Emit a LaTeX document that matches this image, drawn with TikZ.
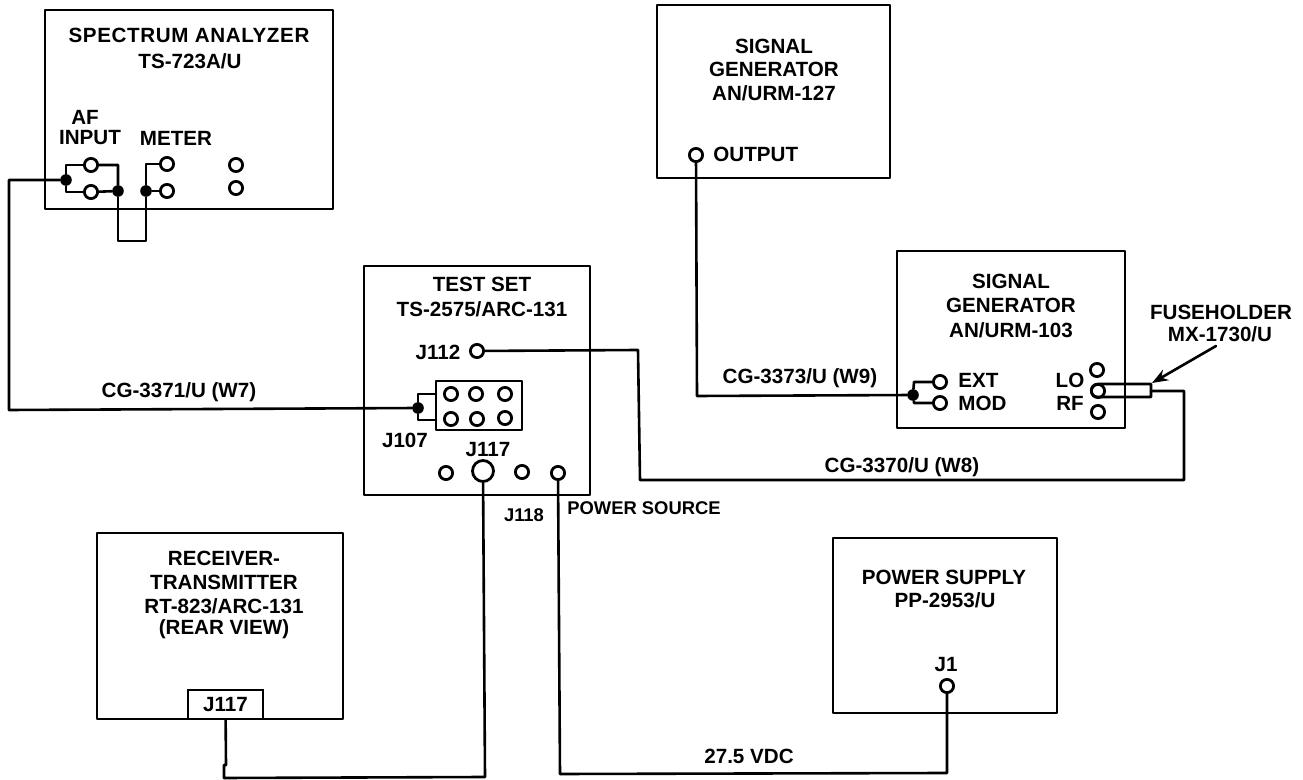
\documentclass[tikz,border=0pt]{standalone}
\usepackage{fontspec}
\setmainfont{Liberation Sans}
\usetikzlibrary{arrows.meta}
\tikzset{
  wire/.style={line width=1.3pt,line join=round,line cap=round},
  boxp/.style={draw,line width=1.3pt,inner sep=0pt},
  jack/.style={circle,draw,line width=1.4pt,fill=white,minimum size=6.6pt,inner sep=0pt},
  bigjack/.style={jack,minimum size=10.5pt},
  dot/.style={circle,fill=black,minimum size=5.8pt,inner sep=0pt},
  lab/.style={font=\fontsize{10.3}{12}\selectfont\bfseries,inner sep=0pt,align=center},
  smalllab/.style={font=\fontsize{9.2}{11}\selectfont\bfseries,inner sep=0pt,align=center},
  corner/.style={coordinate}
}
\begin{document}
\begin{tikzpicture}[x=0.5pt,y=-0.5pt]
\useasboundingbox (0,0) rectangle (1303,780);
% boxes
\node[corner] (sa1) at (45,10) {}; \node[corner] (sa2) at (333,209) {};
\draw[wire] (sa1) rectangle (sa2);
\node[corner] (sg1) at (657,5) {}; \node[corner] (sg2) at (890,178) {};
\draw[wire] (sg1) rectangle (sg2);
\node[corner] (sh1) at (897,251) {}; \node[corner] (sh2) at (1125,428) {};
\draw[wire] (sh1) rectangle (sh2);
\node[corner] (ts1) at (364,266) {}; \node[corner] (ts2) at (590,495) {};
\draw[wire] (ts1) rectangle (ts2);
\node[corner] (rt1) at (97,533) {}; \node[corner] (rt2) at (343,719) {};
\draw[wire] (rt1) rectangle (rt2);
\node[corner] (ps1) at (833,538) {}; \node[corner] (ps2) at (1057,713) {};
\draw[wire] (ps1) rectangle (ps2);
\node[corner] (jb1) at (436,381) {}; \node[corner] (jb2) at (522,430) {};
\draw[wire] (jb1) rectangle (jb2);
\node[boxp,fill=white,minimum width=37.5pt,minimum height=14.5pt,lab] (rtj) at (225.5,704.5) {J117};
% spectrum analyzer jacks
\node[jack] (a1) at (91,165) {};
\node[jack] (a2) at (91,192) {};
\node[jack] (m1) at (167,164) {};
\node[jack] (m2) at (167,191) {};
\node[jack] (x1) at (236,165) {};
\node[jack] (x2) at (236,188) {};
\node[dot] (d1) at (66,180) {};
\node[dot] (d2) at (118,191) {};
\node[dot] (d3) at (146,191) {};
% test set
\node[jack] (j112) at (477,351) {};
\node[jack] (p1) at (451,394) {};
\node[jack] (p2) at (476,394) {};
\node[jack] (p3) at (505,394) {};
\node[jack] (p4) at (451,419) {};
\node[jack] (p5) at (477,419) {};
\node[jack] (p6) at (505,418) {};
\node[dot] (d4) at (418,408) {};
\node[jack] (b1) at (446,473) {};
\node[bigjack] (j117) at (483,471) {};
\node[jack] (b3) at (522,472) {};
\node[jack] (b4) at (558,473) {};
% signal generators
\node[jack] (out) at (696,155) {};
\node[jack] (ext) at (940,382) {};
\node[jack] (mod) at (940,403) {};
\node[dot] (d5) at (913,395) {};
\node[jack] (lo) at (1097,370) {};
\node[jack] (rf) at (1098,391) {};
\node[jack] (lw) at (1098,412) {};
\node[jack] (j1) at (947,686) {};
% fuseholder
\node[corner] (fa) at (1098,384) {};
\node[corner] (fb) at (1098,397) {};
\node[corner] (fc) at (1151,384) {};
\node[corner] (fd) at (1151,397) {};
\node[corner] (fm) at (1151,391) {};
\draw[wire] (fb) -- (fd) -- (fc) -- (fa) .. controls (1089,384) and (1089,397) .. (fb);
\node[corner] (ftail) at (1216,346) {};
\node[corner] (ftip) at (1152,383) {};
\draw[wire,-{Stealth[length=8pt,width=6pt]}] (ftail) -- (ftip);
% analyzer wiring
\draw[wire] (d1) -- (66,165) -- (a1);
\draw[wire] (d1) -- (66,192) -- (a2);
\draw[wire] (a1) -- (118,165) -- (d2) -- (a2);
\draw[wire] (d2) -- (118,241) -- (146,241) -- (d3) -- (146,164) -- (m1);
\draw[wire] (d3) -- (m2);
\draw[wire] (d1) -- (9,180) -- (9,410) -- (d4);
% J107
\draw[wire] (d4) -- (418,394) -- (436,394);
\draw[wire] (d4) -- (418,420) -- (436,420);
% J112 to fuseholder
\draw[wire] (j112) -- (638,350) -- (640,480) -- (1184,480) -- (1184,391) -- (fm);
% RT
\draw[wire] (j117) -- (485,777) -- (224,778) -- (224,765) -- (226,765) -- (rtj);
% power
\draw[wire] (b4) -- (560,774) -- (947,773) -- (j1);
% sig gen
\draw[wire] (out) -- (697,396) -- (d5);
\draw[wire] (d5) -- (914,382) -- (ext);
\draw[wire] (d5) -- (914,403) -- (mod);
% labels
\node[lab] (t1) at (189,35) {\addfontfeatures{LetterSpace=3}SPECTRUM ANALYZER};
\node[lab] (t2) at (190,61) {TS-723A/U};
\node[lab] (t3) at (85,117) {AF};
\node[lab] (t4) at (90,138) {INPUT};
\node[lab] (t5) at (176,138) {METER};
\node[lab] (t6) at (774,46) {SIGNAL};
\node[lab] (t7) at (774,69) {GENERATOR};
\node[lab] (t8) at (774,93) {AN/URM-127};
\node[lab,anchor=west] (t9) at (713,154) {OUTPUT};
\node[lab] (t10) at (1011,281) {SIGNAL};
\node[lab] (t11) at (1011,305) {GENERATOR};
\node[lab] (t12) at (1011,330) {AN/URM-103};
\node[lab] (t13) at (1221,312) {FUSEHOLDER};
\node[lab] (t14) at (1220,334) {MX-1730/U};
\node[lab,anchor=west] (t15) at (958,380) {EXT};
\node[lab,anchor=west] (t16) at (958,403) {MOD};
\node[lab] (t17) at (1070,380) {LO};
\node[lab] (t18) at (1070,403) {RF};
\node[lab] (t19) at (482,284) {TEST SET};
\node[lab] (t20) at (482,309) {TS-2575/ARC-131};
\node[lab] (t21) at (438,352) {J112};
\node[lab] (t22) at (405,440) {J107};
\node[lab] (t23) at (488,450) {J117};
\node[smalllab] (t24) at (524,515) {J118};
\node[smalllab] (t25) at (644,508) {POWER SOURCE};
\node[lab] (t26) at (179,392) {CG-3371/U (W7)};
\node[lab] (t27) at (800,378) {CG-3373/U (W9)};
\node[lab] (t28) at (902,467) {CG-3370/U (W8)};
\node[lab] (t29) at (749,756) {27.5 VDC};
\node[lab] (t30) at (224,558) {RECEIVER-};
\node[lab] (t31) at (224,582) {TRANSMITTER};
\node[lab] (t32) at (224,606) {RT-823/ARC-131};
\node[lab] (t33) at (224,629) {(REAR VIEW)};
\node[lab] (t34) at (944,577) {POWER SUPPLY};
\node[lab] (t35) at (945,600) {PP-2953/U};
\node[lab] (t36) at (946,665) {J1};
\end{tikzpicture}
\end{document}
